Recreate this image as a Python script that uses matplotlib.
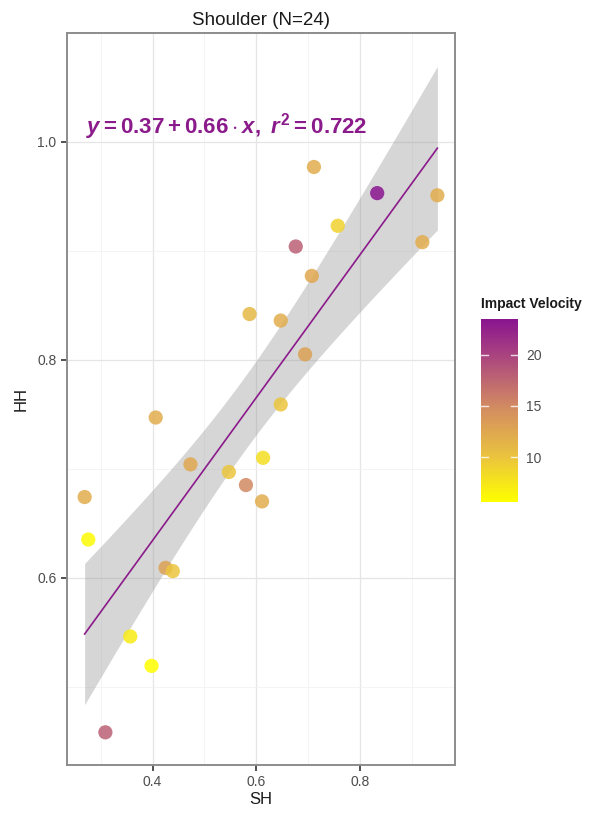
import matplotlib
matplotlib.use('Agg')
import matplotlib.pyplot as plt
from matplotlib.colors import LinearSegmentedColormap, Normalize
import numpy as np

plt.rcParams['font.family'] = ['Liberation Sans', 'DejaVu Sans']
plt.rcParams['mathtext.fontset'] = 'custom'
plt.rcParams['mathtext.rm'] = 'Liberation Sans:bold'
plt.rcParams['mathtext.it'] = 'Liberation Sans:italic:bold'
plt.rcParams['mathtext.bf'] = 'Liberation Sans:bold'

# data
sh = [0.269, 0.276, 0.309, 0.357, 0.398, 0.406, 0.425, 0.439, 0.473, 0.547,
      0.580, 0.587, 0.613, 0.611, 0.647, 0.647, 0.676, 0.694, 0.707, 0.711,
      0.757, 0.833, 0.920, 0.949]
hh = [0.674, 0.635, 0.458, 0.546, 0.519, 0.747, 0.609, 0.606, 0.704, 0.697,
      0.685, 0.842, 0.710, 0.670, 0.759, 0.836, 0.904, 0.805, 0.877, 0.977,
      0.923, 0.953, 0.908, 0.951]
velocity = [12, 6, 18, 7, 5.6, 12, 13, 10, 12.5, 10,
            15, 11, 8, 12, 10, 12, 18, 13, 12.5, 12,
            9, 23.5, 12, 12]
cbar_ticks = [10, 15, 20]
title = 'Shoulder (N=24)'
eq_label = r'$y = 0.37 + 0.66 \cdot x,\ r^2 = 0.722$'

x = np.array(sh)
y = np.array(hh)
v = np.array(velocity)

# ggplot style yellow -> purple gradient
cmap = LinearSegmentedColormap.from_list('iv', [
    (0.0, '#FFFF00'), (0.246, '#EBC43E'), (0.525, '#D28A63'),
    (0.804, '#AA4480'), (1.0, '#8A1590')])
norm = Normalize(vmin=5.6, vmax=23.5)

fig = plt.figure(figsize=(6.08, 8.19), dpi=100)
ax = fig.add_axes([67/608, 1 - 765/819, (455-67)/608, (765-33)/819])

# linear fit with 95% confidence band
n = len(x)
b, a = np.polyfit(x, y, 1)
xs = np.linspace(x.min(), x.max(), 80)
yfit = a + b * xs
resid = y - (a + b * x)
s = np.sqrt(np.sum(resid**2) / (n - 2))
se = s * np.sqrt(1/n + (xs - x.mean())**2 / np.sum((x - x.mean())**2))
t = 2.074
ax.fill_between(xs, yfit - t*se, yfit + t*se, color='#999999', alpha=0.4,
                lw=0, zorder=2)
ax.plot(xs, yfit, color='#8B1A8B', lw=1.2, zorder=3)

ax.scatter(x, y, c=v, cmap=cmap, norm=norm, s=105, alpha=0.85, lw=0, zorder=4)

ax.text(0.272, 1.014, eq_label, color='#8B1A8B', fontsize=16,
        ha='left', va='center', zorder=5)

ax.set_xlim(0.235, 0.983)
ax.set_ylim(0.428, 1.100)
ax.set_xticks([0.4, 0.6, 0.8])
ax.set_xticklabels(['0.4', '0.6', '0.8'])
ax.set_yticks([0.6, 0.8, 1.0])
ax.set_yticklabels(['0.6', '0.8', '1.0'])
ax.set_xticks([0.3, 0.5, 0.7, 0.9], minor=True)
ax.set_yticks([0.5, 0.7, 0.9], minor=True)
ax.grid(True, which='major', color='#E5E5E5', lw=0.9, zorder=0)
ax.grid(True, which='minor', color='#F2F2F2', lw=0.6, zorder=0)
ax.set_axisbelow(True)
ax.tick_params(which='major', length=4, width=1.2, color='#333333',
               labelcolor='#4D4D4D', labelsize=10)
ax.tick_params(which='minor', length=0)
for sp in ax.spines.values():
    sp.set_color('#8C8C8C')
    sp.set_linewidth(1.4)

ax.set_title(title, fontsize=13.5, color='#1A1A1A', pad=6)
ax.set_xlabel('SH', fontsize=12, color='#1A1A1A', labelpad=2)
ax.set_ylabel('HH', fontsize=12, color='#1A1A1A', labelpad=6)

# colour bar
cax = fig.add_axes([481/608, 1 - 502/819, 37/608, 183/819])
grad = np.linspace(5.6, 23.5, 256).reshape(-1, 1)
cax.imshow(grad, aspect='auto', cmap=cmap, norm=norm, origin='lower',
           extent=[0, 1, 5.6, 23.5])
cax.set_xlim(0, 1)
cax.set_ylim(5.6, 23.5)
for tk in cbar_ticks:
    cax.plot([0, 0.2], [tk, tk], color='white', lw=1, alpha=0.8)
    cax.plot([0.8, 1], [tk, tk], color='white', lw=1, alpha=0.8)
cax.set_xticks([])
cax.set_yticks(cbar_ticks)
cax.yaxis.tick_right()
cax.tick_params(axis='y', length=0, labelsize=10, labelcolor='#4D4D4D', pad=6)
for sp in cax.spines.values():
    sp.set_visible(False)
fig.text(481/608, 1 - 304/819, 'Impact Velocity', fontsize=10,
         fontweight='bold', ha='left', va='center', color='#1A1A1A')

fig.savefig('out.png', dpi=100)
